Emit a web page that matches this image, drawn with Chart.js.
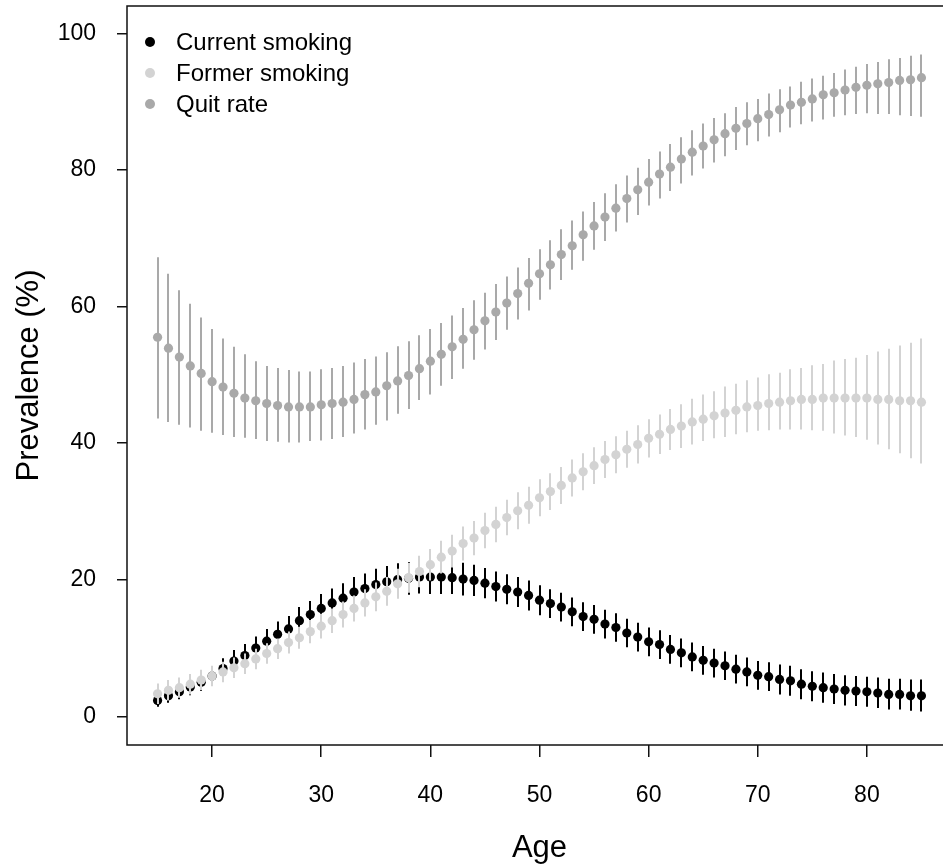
<!DOCTYPE html>
<html>
<head>
<meta charset="utf-8">
<script src="https://cdn.jsdelivr.net/npm/chart.js@4/dist/chart.umd.min.js"></script>
<style>
  html, body { margin: 0; padding: 0; background: #fff; overflow: hidden; }
  #wrap { width: 943px; height: 867px; overflow: hidden; position: relative; }
  #chart { position: absolute; left: 0; top: 0; }
</style>
</head>
<body>
<div id="wrap"><canvas id="chart" width="960" height="867"></canvas></div>
<script>
// Age in years (one estimate per year of age)
const ages = [15,16,17,18,19,20,21,22,23,24,25,26,27,28,29,30,31,32,33,34,35,
  36,37,38,39,40,41,42,43,44,45,46,47,48,49,50,51,52,53,54,55,56,57,58,59,60,
  61,62,63,64,65,66,67,68,69,70,71,72,73,74,75,76,77,78,79,80,81,82,83,84,85];

const xTickValues = [20, 30, 40, 50, 60, 70, 80];
const yTickValues = [0, 20, 40, 60, 80, 100];

const seriesLabels = ['Current smoking', 'Former smoking', 'Quit rate'];

// Current smoking prevalence (%) with 95% interval
const currentMean = [2.3,3.0,3.6,4.3,5.0,5.9,7.0,8.1,8.9,10.0,11.0,12.0,12.8,14.0,14.9,15.8,16.6,17.3,18.2,18.7,19.3,
  19.7,20.0,20.2,20.4,20.4,20.4,20.3,20.1,19.9,19.5,19.0,18.6,18.2,17.7,17.0,16.5,16.0,15.3,14.6,14.2,13.5,13.0,12.2,11.6,10.9,
  10.5,9.8,9.3,8.7,8.2,7.8,7.4,6.9,6.5,6.0,5.8,5.4,5.2,4.7,4.4,4.2,4.0,3.8,3.7,3.6,3.4,3.2,3.2,3.0,3.0];
const currentLow = [1.4,2.0,2.5,3.1,3.7,4.5,5.5,6.5,7.2,8.3,9.2,10.1,10.9,12.0,12.9,13.7,14.5,15.1,16.0,16.5,17.0,
  17.4,17.6,17.8,18.0,17.9,17.9,17.9,17.7,17.6,17.3,16.8,16.4,16.0,15.5,14.8,14.4,13.9,13.2,12.5,12.1,11.4,10.9,10.1,9.5,8.8,
  8.4,7.7,7.2,6.6,6.1,5.7,5.3,4.8,4.4,3.9,3.7,3.2,3.0,2.5,2.2,2.0,1.8,1.6,1.5,1.4,1.2,1.0,1.0,0.8,0.7];
const currentHigh = [3.2,4.0,4.7,5.5,6.3,7.3,8.5,9.7,10.6,11.7,12.8,13.9,14.7,16.0,16.9,17.9,18.7,19.5,20.4,20.9,21.6,
  22.0,22.4,22.6,22.8,22.9,22.9,22.7,22.5,22.2,21.7,21.2,20.8,20.4,19.9,19.2,18.6,18.1,17.4,16.7,16.3,15.6,15.1,14.3,13.7,13.0,
  12.6,11.9,11.4,10.8,10.3,9.9,9.5,9.0,8.6,8.1,7.9,7.6,7.4,6.9,6.6,6.4,6.2,6.0,5.9,5.8,5.7,5.5,5.5,5.4,5.4];

// Former smoking prevalence (%) with 95% interval
const formerMean = [3.3,3.8,4.2,4.7,5.3,5.9,6.5,7.1,7.7,8.4,9.2,9.9,10.8,11.5,12.4,13.2,14.0,14.9,15.8,16.6,17.5,
  18.3,19.4,20.3,21.2,22.2,23.3,24.2,25.3,26.1,27.2,28.1,29.1,30.1,30.9,32.0,32.9,33.8,34.9,35.8,36.7,37.6,38.3,39.1,39.8,40.7,
  41.3,42.0,42.5,43.1,43.5,44.0,44.4,44.8,45.3,45.5,45.8,46.0,46.2,46.4,46.4,46.6,46.6,46.6,46.6,46.6,46.4,46.4,46.2,46.2,46.0];
const formerLow = [1.8,2.3,2.7,3.2,3.8,4.4,5.0,5.6,6.2,6.9,7.7,8.4,9.2,9.9,10.7,11.4,12.2,13.0,13.9,14.6,15.4,
  16.2,17.2,18.1,18.9,19.9,20.9,21.8,22.8,23.6,24.6,25.5,26.5,27.4,28.2,29.3,30.2,31.1,32.2,33.1,34.0,34.9,35.6,36.4,37.0,37.9,
  38.4,39.0,39.3,39.8,40.3,40.7,40.9,41.3,41.6,41.8,41.9,42.0,42.0,42.0,41.9,41.8,41.4,41.1,40.9,40.5,39.8,39.1,38.5,37.8,37.0];
const formerHigh = [4.8,5.3,5.7,6.2,6.8,7.4,8.0,8.6,9.2,9.9,10.7,11.4,12.4,13.1,14.1,15.0,15.8,16.8,17.7,18.6,19.6,
  20.4,21.6,22.5,23.5,24.5,25.7,26.6,27.8,28.6,29.8,30.7,31.7,32.8,33.6,34.7,35.6,36.5,37.6,38.5,39.4,40.3,41.0,41.8,42.6,43.5,
  44.2,45.0,45.7,46.5,47.1,47.6,48.3,48.7,49.2,49.6,50.1,50.3,50.8,51.0,51.4,51.6,52.1,52.3,52.5,52.9,53.4,53.8,54.3,54.7,55.3];

// Quit rate (%) with 95% interval
const quitMean = [55.5,53.9,52.6,51.3,50.2,49.0,48.2,47.3,46.6,46.2,45.8,45.5,45.3,45.3,45.3,45.6,45.8,46.0,46.4,47.1,47.5,
  48.4,49.1,49.9,50.9,52.0,53.0,54.1,55.2,56.6,57.9,59.2,60.5,61.9,63.4,64.8,66.1,67.6,68.9,70.5,71.8,73.1,74.4,75.8,77.1,78.2,
  79.4,80.4,81.6,82.6,83.5,84.4,85.3,86.1,86.8,87.5,88.1,88.8,89.5,89.9,90.4,91.0,91.3,91.7,92.1,92.4,92.6,92.8,93.1,93.2,93.5];
const quitLow = [43.6,43.1,42.7,42.3,41.8,41.5,41.2,40.9,40.8,40.6,40.3,40.2,40.1,40.1,40.3,40.4,40.6,40.9,41.4,42.0,42.7,
  43.3,44.3,45.0,46.3,47.1,48.4,49.4,50.9,52.2,53.7,55.1,56.6,58.1,59.4,61.0,62.5,63.9,65.4,66.7,68.3,69.6,71.0,72.3,73.4,74.8,
  75.8,76.9,78.0,79.2,80.2,81.1,82.0,82.9,83.6,84.2,84.9,85.5,86.2,86.7,87.1,87.4,87.8,88.0,88.2,88.3,88.2,88.2,88.0,87.9,87.8];
const quitHigh = [67.2,64.8,62.4,60.4,58.4,56.7,55.3,54.1,53.0,52.0,51.3,51.0,50.7,50.5,50.5,50.8,51.0,51.3,51.8,52.3,52.7,
  53.3,54.2,54.9,55.8,56.7,57.6,58.7,59.8,60.9,62.0,63.3,64.4,65.7,67.1,68.4,69.7,71.3,72.6,73.9,75.3,76.6,77.9,79.2,80.3,81.6,
  82.7,83.8,84.8,85.8,86.8,87.6,88.3,89.2,89.9,90.4,91.2,91.8,92.2,92.9,93.4,93.8,94.2,94.7,95.1,95.5,95.8,96.2,96.4,96.7,96.9];

const seriesColors = ['#000000', '#d3d3d3', '#a9a9a9'];

const FONT = "'Liberation Sans', Arial, Helvetica, sans-serif";

function points(means) {
  return ages.map((a, i) => ({ x: a, y: means[i] }));
}

function makeDataset(idx, means, low, high, order) {
  return {
    label: seriesLabels[idx],
    data: points(means),
    low: low,
    high: high,
    order: order,
    showLine: false,
    pointRadius: 4.6,
    pointHoverRadius: 4.6,
    pointBackgroundColor: seriesColors[idx],
    pointBorderColor: seriesColors[idx],
    pointBorderWidth: 0,
    backgroundColor: seriesColors[idx],
    borderColor: seriesColors[idx]
  };
}

// Vertical interval bars, drawn under each series' own points
const intervalBars = {
  id: 'intervalBars',
  beforeDatasetDraw(chart, args) {
    const ds = chart.data.datasets[args.index];
    const xs = chart.scales.x, ys = chart.scales.y;
    const ctx = chart.ctx;
    ctx.save();
    ctx.strokeStyle = ds.borderColor;
    ctx.lineWidth = 2;
    ctx.lineCap = 'butt';
    ds.data.forEach((p, i) => {
      const px = Math.round(xs.getPixelForValue(p.x));
      ctx.beginPath();
      ctx.moveTo(px, ys.getPixelForValue(ds.low[i]));
      ctx.lineTo(px, ys.getPixelForValue(ds.high[i]));
      ctx.stroke();
    });
    ctx.restore();
  }
};

// Box around the plotting region
const frameBox = {
  id: 'frameBox',
  afterDraw(chart) {
    const { left, top, right, bottom } = chart.chartArea;
    const ctx = chart.ctx;
    ctx.save();
    ctx.strokeStyle = '#111';
    ctx.lineWidth = 1.5;
    ctx.strokeRect(left, top, right - left, bottom - top);
    ctx.restore();
  }
};

// Key in the top-left corner of the plot
const cornerKey = {
  id: 'cornerKey',
  afterDatasetsDraw(chart) {
    const ctx = chart.ctx;
    const { left, top } = chart.chartArea;
    ctx.save();
    ctx.font = '24px ' + FONT;
    ctx.textBaseline = 'middle';
    ctx.textAlign = 'left';
    chart.data.datasets.forEach((ds, i) => {
      const y = top + 36 + i * 31;
      ctx.fillStyle = ds.backgroundColor;
      ctx.beginPath();
      ctx.arc(left + 23, y, 5, 0, Math.PI * 2);
      ctx.fill();
      ctx.fillStyle = '#000';
      ctx.fillText(ds.label, left + 49, y + 1);
    });
    ctx.restore();
  }
};

new Chart(document.getElementById('chart'), {
  type: 'scatter',
  data: {
    datasets: [
      makeDataset(0, currentMean, currentLow, currentHigh, 3),
      makeDataset(1, formerMean, formerLow, formerHigh, 2),
      makeDataset(2, quitMean, quitLow, quitHigh, 1)
    ]
  },
  options: {
    responsive: false,
    animation: false,
    devicePixelRatio: 1,
    layout: { padding: { top: 6, right: 8, bottom: 0, left: 0 } },
    plugins: {
      legend: { display: false },
      tooltip: { enabled: false }
    },
    scales: {
      x: {
        type: 'linear',
        min: 12.2,
        max: 87.8,
        afterFit(scale) { scale.height = 122; scale.paddingLeft = 0; scale.paddingRight = 0; },
        afterBuildTicks(scale) { scale.ticks = xTickValues.map(v => ({ value: v })); },
        grid: { drawOnChartArea: false, drawTicks: true, tickLength: 12, color: '#111', lineWidth: 1.5 },
        border: { display: false },
        ticks: { color: '#000', padding: 25, maxRotation: 0, autoSkip: false, font: { family: FONT, size: 23 } },
        title: { display: true, text: 'Age', color: '#000', padding: { top: 0, bottom: 0 }, font: { family: FONT, size: 31 } }
      },
      y: {
        type: 'linear',
        min: -4.2,
        max: 104,
        afterFit(scale) { scale.width = 127; scale.paddingTop = 0; scale.paddingBottom = 0; },
        afterBuildTicks(scale) { scale.ticks = yTickValues.map(v => ({ value: v })); },
        grid: { drawOnChartArea: false, drawTicks: true, tickLength: 10, color: '#111', lineWidth: 1.5 },
        border: { display: false },
        ticks: { color: '#000', padding: 21, autoSkip: false, font: { family: FONT, size: 23 } },
        title: { display: true, text: 'Prevalence (%)', color: '#000', padding: { top: 11, bottom: 0 }, font: { family: FONT, size: 31 } }
      }
    }
  },
  plugins: [intervalBars, frameBox, cornerKey]
});
</script>
</body>
</html>
